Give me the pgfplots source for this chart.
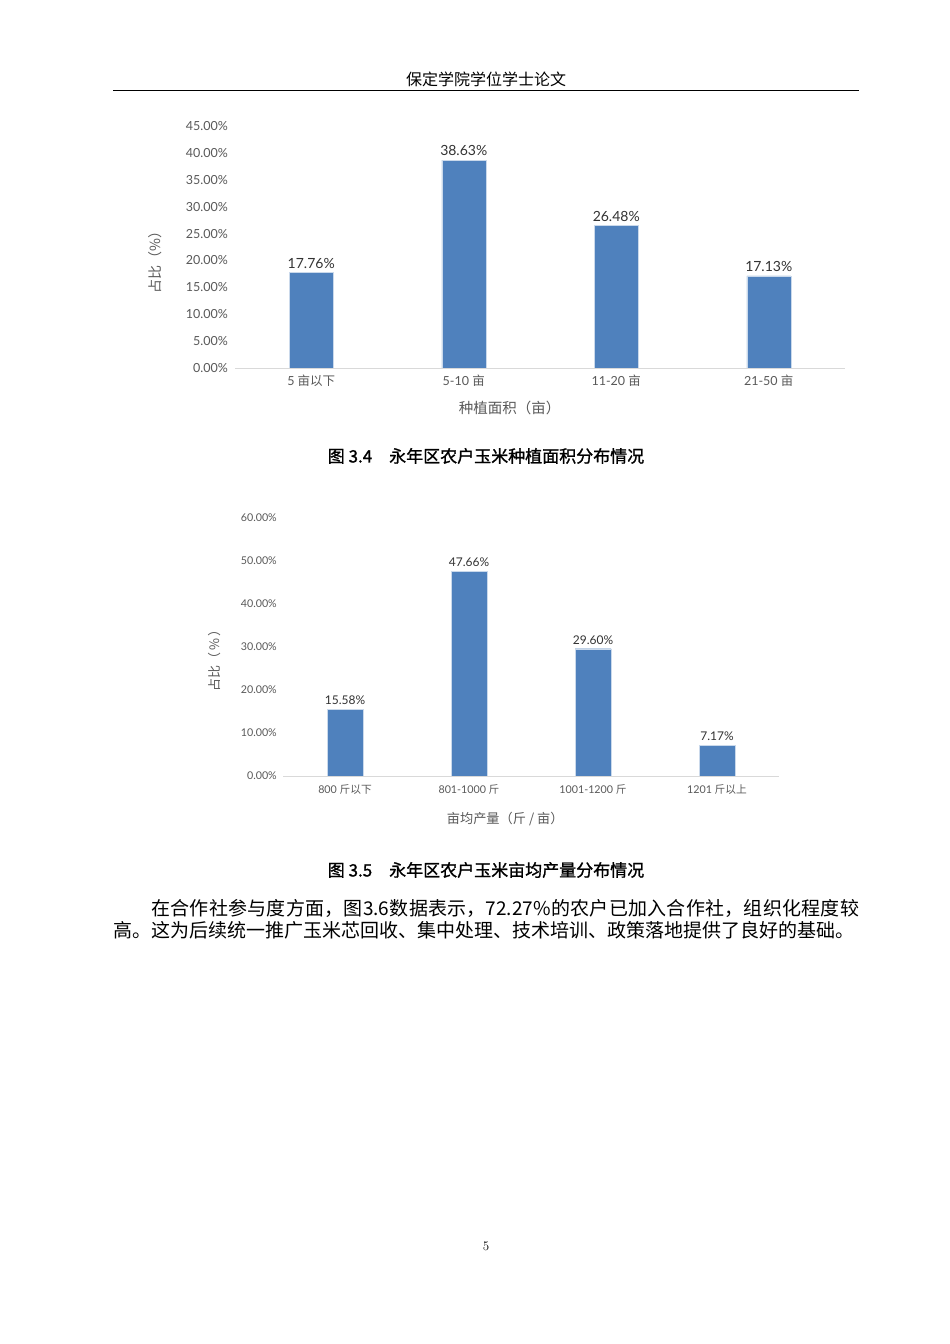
\documentclass[border=0pt]{standalone}
\usepackage{fontspec}
\usepackage{pgfplots}
\pgfplotsset{compat=1.18}
\setmainfont{Lato}
\newfontfamily\cjk{Noto Sans CJK SC}
\newfontfamily\cjkcap[FakeBold=1.2]{Noto Sans CJK SC}
\newfontfamily\serifmain{Latin Modern Roman}
\XeTeXlinebreaklocale "zh"
\XeTeXlinebreakskip=0pt plus 2pt
\definecolor{barblue}{HTML}{4F81BD}
\definecolor{txtgray}{HTML}{595959}
\definecolor{axgray}{HTML}{D9D9D9}

\pgfplotsset{
  excelbar/.style={
    scale only axis,
    ybar, ymin=0,
    xmin=-0.5, xmax=3.5,
    xtick={0,1,2,3},
    separate axis lines,
    axis x line*=bottom, axis y line*=left,
    y axis line style={draw=none},
    x axis line style={draw=axgray, line width=0.8pt, -},
    major tick length=0pt,
    ymajorgrids=false,
    /pgf/number format/assume math mode=true,
    yticklabel={\pgfmathprintnumber[fixed,fixed zerofill,precision=2]{\tick}\%},
    yticklabel style={inner sep=0pt, anchor=east},
    xticklabel style={inner sep=0pt, anchor=north},
    tick label style={color=txtgray},
    label style={color=txtgray},
    nodes near coords={\pgfmathprintnumber[fixed,fixed zerofill,precision=2]{\pgfplotspointmeta}\%},
    nodes near coords style={color=black!80, inner sep=0pt, anchor=south, yshift=4pt},
  }
}

\begin{document}
\begin{tikzpicture}[x=1pt,y=1pt]
\fill[white] (0,0) rectangle (950,1344);
\useasboundingbox (0,0) rectangle (950,1344);

% header
\node[font=\cjk\fontsize{16}{18}\selectfont, anchor=base] at (486,1258) {保定学院学位学士论文};
\draw[line width=1pt] (113,1253) -- (859,1253);

% figure 3.4
\begin{axis}[excelbar,
  at={(235pt,976pt)}, anchor=south west,
  width=610pt, height=242pt,
  ymax=45, ytick={0,5,...,45},
  bar width=44pt,
  xticklabels={{5 \cjk 亩以下},{5-10 \cjk 亩},{11-20 \cjk 亩},{21-50 \cjk 亩}},
  tick label style={font=\fontsize{12.5}{14}\selectfont},
  yticklabel style={xshift=-7pt},
  xticklabel style={yshift=-7pt},
  nodes near coords style={font=\fontsize{14}{16}\selectfont},
  xlabel={\cjk 种植面积（亩）},
  xlabel style={font=\fontsize{14.5}{16}\selectfont, at={(axis description cs:0.45,-0.165)}, anchor=center},
  ylabel={\cjk 占比（\%）},
  ylabel style={font=\fontsize{14}{16}\selectfont, at={(axis description cs:-0.131,0.45)}, anchor=center},
]
\addplot[fill=barblue, draw=white!70!barblue] coordinates {(0,17.76) (1,38.63) (2,26.48) (3,17.13)};
\end{axis}
\node[font=\cjkcap\fontsize{17}{19}\selectfont] at (486,888) {图 3.4\hspace{1em}永年区农户玉米种植面积分布情况};

% figure 3.5
\begin{axis}[excelbar,
  at={(283pt,568pt)}, anchor=south west,
  width=496pt, height=258pt,
  ymax=60, ytick={0,10,...,60},
  bar width=36pt,
  xticklabels={{800 \cjk 斤以下},{801-1000 \cjk 斤},{1001-1200 \cjk 斤},{1201 \cjk 斤以上}},
  tick label style={font=\fontsize{10.7}{12}\selectfont},
  yticklabel style={xshift=-6pt},
  xticklabel style={yshift=-8pt},
  nodes near coords style={font=\fontsize{12}{14}\selectfont},
  xlabel={\cjk 亩均产量（斤 / 亩）},
  xlabel style={font=\fontsize{13.2}{15}\selectfont, at={(axis description cs:0.448,-0.167)}, anchor=center},
  ylabel={\cjk 占比（\,\%\,）},
  ylabel style={font=\fontsize{13}{15}\selectfont, at={(axis description cs:-0.137,0.46)}, anchor=center},
]
\addplot[fill=barblue, draw=white!70!barblue] coordinates {(0,15.58) (1,47.66) (2,29.60) (3,7.17)};
\end{axis}
\node[font=\cjkcap\fontsize{17}{19}\selectfont] at (486,474) {图 3.5\hspace{1em}永年区农户玉米亩均产量分布情况};

% body text
\node[anchor=north west, inner sep=0pt, text width=746pt, align=justify,
      font=\cjk\fontsize{19}{22.5}\selectfont] at (113,445)
  {\hspace*{2em}在合作社参与度方面，图3.6数据表示，72.27\%的农户已加入合作社，组织化程度较\linebreak
   高。这为后续统一推广玉米芯回收、集中处理、技术培训、政策落地提供了良好的基础。};

% page number
\node[font=\serifmain\fontsize{13}{15}\selectfont] at (486,98) {5};
\end{tikzpicture}
\end{document}
